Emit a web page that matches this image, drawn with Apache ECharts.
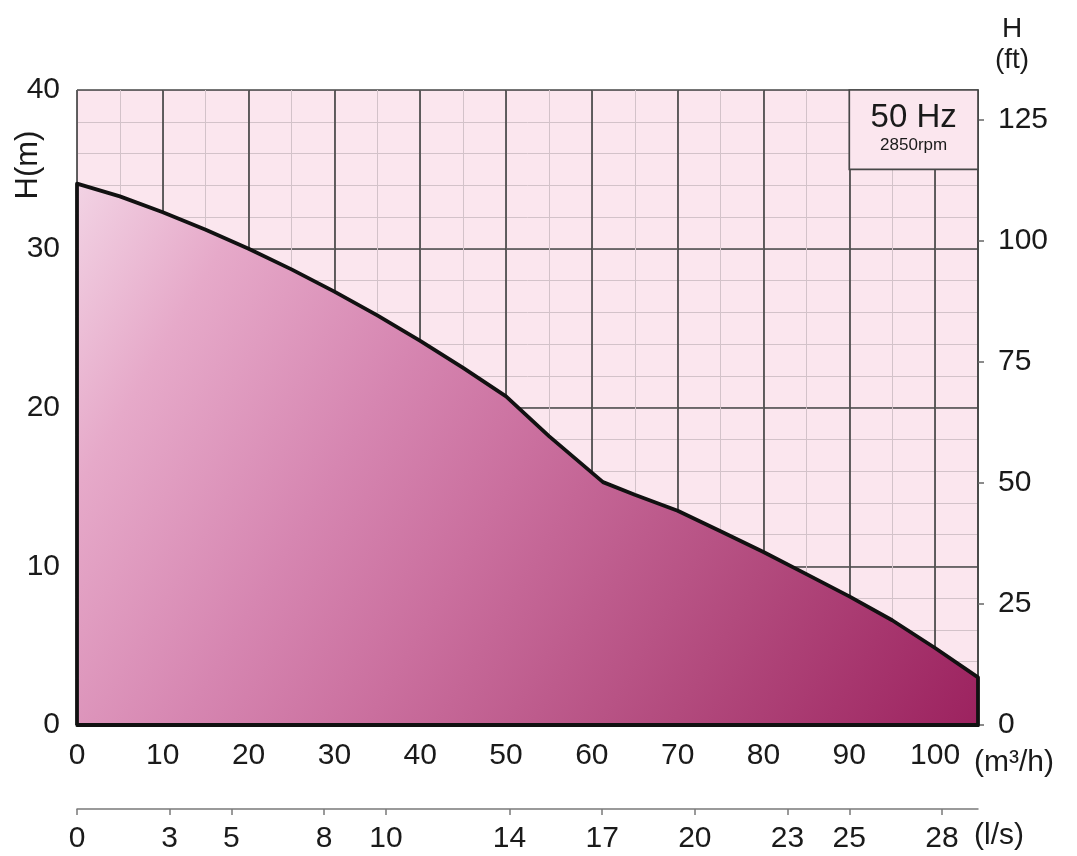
<!DOCTYPE html>
<html><head><meta charset="utf-8">
<script src="https://cdn.jsdelivr.net/npm/echarts@6/dist/echarts.min.js"></script>
<style>html,body{margin:0;padding:0;background:#fff}#c{width:1077px;height:856px}</style>
</head><body><div id="c"></div>
<script>
// ---- data ----
const flowM3h = [0,5,10,15,20,25,30,35,40,45,50,55,61.3,65,70,75,80,85,90,95,100,105];
const headM   = [34.1,33.3,32.3,31.2,30.0,28.7,27.3,25.8,24.2,22.5,20.7,18.2,15.3,14.5,13.5,12.2,10.9,9.5,8.1,6.6,4.85,3.0];
const lsTicks = [0,3,5,8,10,14,17,20,23,25,28];
const ftTicks = [0,25,50,75,100,125];
const FLOW_MAX = 105, HEAD_MAX = 40;
const M_TO_FT = 3.28084, M3H_TO_LS = 1/3.6;
const boxFlow = [90,105], boxHead = [35,40];

const curve = [[0,0]].concat(flowM3h.map((q,i)=>[q, headM[i]])).concat([[FLOW_MAX,0],[0,0]]);

const FONT = 'Liberation Sans, Arial, Helvetica, sans-serif';
const TXT = '#1a1a1a';
const MAJOR = {color:'#474747', width:1.7};
const MINOR = {color:'#d3c2c9', width:1};
const BG = '#fbe6ee';

const chart = echarts.init(document.getElementById('c'));
chart.setOption({
  backgroundColor:'#ffffff',
  textStyle:{fontFamily:FONT},
  animation:false,
  grid:{left:77, right:99, top:90, bottom:131, show:true, backgroundColor:BG, borderWidth:0},
  xAxis:[
    {type:'value', min:0, max:FLOW_MAX, interval:5, position:'top',
      axisLine:{show:false,onZero:false}, axisTick:{show:false}, axisLabel:{show:false},
      splitLine:{show:true, lineStyle:MINOR}},
    {type:'value', min:0, max:FLOW_MAX, interval:10, position:'bottom',
      axisLine:{show:true,onZero:false,lineStyle:{color:'#111',width:3}}, axisTick:{show:false},
      axisLabel:{fontSize:30, color:TXT, margin:16, showMaxLabel:false, fontFamily:FONT},
      splitLine:{show:true, lineStyle:MAJOR}},
    {type:'value', min:0, max:FLOW_MAX*M3H_TO_LS, position:'bottom', offset:84,
      axisLine:{show:true,onZero:false,lineStyle:{color:'#7a7a7a',width:1.5}},
      axisTick:{show:true, customValues:lsTicks, length:6, lineStyle:{color:'#7a7a7a',width:1.5}},
      axisLabel:{customValues:lsTicks, fontSize:30, color:TXT, margin:15, fontFamily:FONT},
      splitLine:{show:false}}
  ],
  yAxis:[
    {type:'value', min:0, max:HEAD_MAX, interval:2, position:'left',
      axisLine:{show:false,onZero:false}, axisTick:{show:false}, axisLabel:{show:false},
      splitLine:{show:true, lineStyle:MINOR}},
    {type:'value', min:0, max:HEAD_MAX, interval:10, position:'left',
      axisLine:{show:false,onZero:false}, axisTick:{show:false},
      axisLabel:{fontSize:30, color:TXT, margin:17, fontFamily:FONT},
      splitLine:{show:true, lineStyle:MAJOR}},
    {type:'value', min:0, max:HEAD_MAX*M_TO_FT, position:'right',
      axisLine:{show:true,onZero:false,lineStyle:MAJOR},
      axisTick:{show:true, customValues:ftTicks, length:6, lineStyle:{color:'#666',width:1.5}},
      axisLabel:{customValues:ftTicks, fontSize:30, color:TXT, margin:20, fontFamily:FONT},
      splitLine:{show:false}}
  ],
  series:[{
    type:'line', xAxisIndex:1, yAxisIndex:1, data:curve, symbol:'none', smooth:false,
    lineStyle:{color:'#111', width:3.8, join:'round'},
    areaStyle:{opacity:1, color:new echarts.graphic.LinearGradient(0,0,1,1,[
      {offset:0, color:'#f2d3e4'},
      {offset:0.15, color:'#e6a9c9'},
      {offset:0.35, color:'#d686b1'},
      {offset:0.5, color:'#ca6f9e'},
      {offset:0.75, color:'#b24a7d'},
      {offset:1, color:'#9c225f'}
    ])},
    markArea:{silent:true,
      itemStyle:{color:BG, borderColor:'#474747', borderWidth:1.7},
      label:{show:true, position:'inside', offset:[0,-2], formatter:'{a|50 Hz}\n{b|2850rpm}',
        rich:{a:{fontSize:33, color:TXT, fontFamily:FONT, lineHeight:36},
              b:{fontSize:17, color:TXT, fontFamily:FONT, lineHeight:20}}},
      data:[[{coord:[boxFlow[0],boxHead[0]]},{coord:[boxFlow[1],boxHead[1]]}]]}
  }],
  graphic:[
    {type:'text', x:28, y:165, rotation:Math.PI/2, style:{text:'H(m)', fontSize:31, fill:TXT, fontFamily:FONT, align:'center', verticalAlign:'middle'}},
    {type:'text', x:1012, y:29, style:{text:'H', fontSize:28, fill:TXT, fontFamily:FONT, align:'center', verticalAlign:'middle'}},
    {type:'text', x:1012, y:60, style:{text:'(ft)', fontSize:28, fill:TXT, fontFamily:FONT, align:'center', verticalAlign:'middle'}},
    {type:'text', x:974, y:763, style:{text:'(m³/h)', fontSize:30, fill:TXT, fontFamily:FONT, align:'left', verticalAlign:'middle'}},
    {type:'text', x:974, y:836, style:{text:'(l/s)', fontSize:30, fill:TXT, fontFamily:FONT, align:'left', verticalAlign:'middle'}}
  ]
});
</script></body></html>
